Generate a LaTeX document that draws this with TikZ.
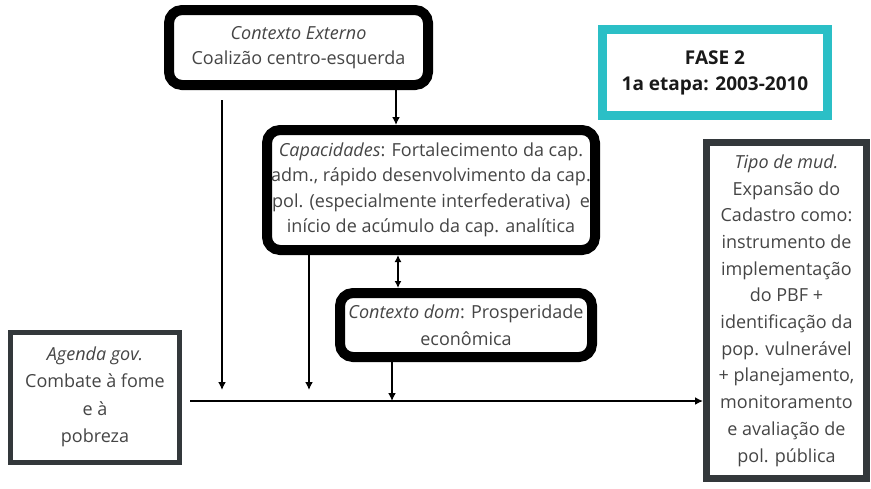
\documentclass[tikz,border=0pt]{standalone}
\usepackage{fontspec}
\setmainfont{Open Sans}
\usetikzlibrary{arrows.meta}
\definecolor{txt}{HTML}{454545}
\definecolor{teal}{HTML}{2BBFC6}
\definecolor{dk}{HTML}{33383B}
\begin{document}
\begin{tikzpicture}[x=1pt,y=-1pt,
  body/.style={font=\fontsize{18}{25.5}\selectfont, text=txt, align=center, inner sep=0pt},
  rbox/.style={body, draw=black, line width=10pt, rounded corners=13pt, fill=white},
  sbox/.style={body, draw=dk, fill=white},
  arr/.style={-{Latex[length=8pt,width=8pt]}, line width=1.6pt, black},
  darr/.style={{Latex[length=7pt,width=7pt]}-{Latex[length=7pt,width=7pt]}, line width=1.6pt, black}]
\useasboundingbox (0,0) rectangle (871,488);

\node[rbox, minimum width=259pt, minimum height=75pt] (ext) at (298.5,47.5)
  {\textit{Contexto Externo}\\Coalizão centro-esquerda};

\node[body, draw=teal, line width=9pt, minimum width=225pt, minimum height=86pt,
  font=\fontsize{19}{26}\selectfont\bfseries, text=black!90] (fase) at (715,72.5)
  {FASE 2\\ 1a etapa: 2003-2010};

\node[rbox, minimum width=328pt, minimum height=120pt] (cap) at (431,190)
  {\textit{Capacidades}: Fortalecimento da cap.\\adm., rápido desenvolvimento da cap.\\pol. (especialmente interfederativa)\ \ e\\início de acúmulo da cap. analítica};

\node[rbox, minimum width=252pt, minimum height=64pt, font=\fontsize{18}{27}\selectfont] (dom) at (466,325)
  {\textit{Contexto dom}: Prosperidade\\econômica};

\node[sbox, line width=5pt, minimum width=169pt, minimum height=130pt, font=\fontsize{18}{27.5}\selectfont] (ag) at (95,397)
  {\textit{Agenda gov.}\\Combate à fome\\e à\\pobreza};

\node[sbox, line width=7pt, minimum width=160pt, minimum height=336pt, font=\fontsize{18}{26.7}\selectfont] (tipo) at (786.5,310.5)
  {\textit{Tipo de mud.}\\Expansão do\\Cadastro como:\\instrumento de\\implementação\\do PBF +\\identificação da\\pop. vulnerável\\+ planejamento,\\monitoramento\\e avaliação de\\pol. pública};

\coordinate (m0) at (190,401);
\coordinate (xA) at (396,0);
\coordinate (xB) at (222,0);
\coordinate (xC) at (309,0);
\coordinate (xD) at (392,0);
\coordinate (xE) at (398,0);

\draw[arr] (m0) -- (m0 -| tipo.west);
\draw[arr] (ext.south -| xA) -- (cap.north -| xA);
\draw[arr] ([yshift=-10pt]ext.south -| xB) -- ([yshift=11pt]m0 -| xB);
\draw[arr] (cap.south -| xC) -- ([yshift=11pt]m0 -| xC);
\draw[arr] (dom.south -| xD) -- (m0 -| xD);
\draw[darr] (cap.south -| xE) -- (dom.north -| xE);
\end{tikzpicture}
\end{document}
